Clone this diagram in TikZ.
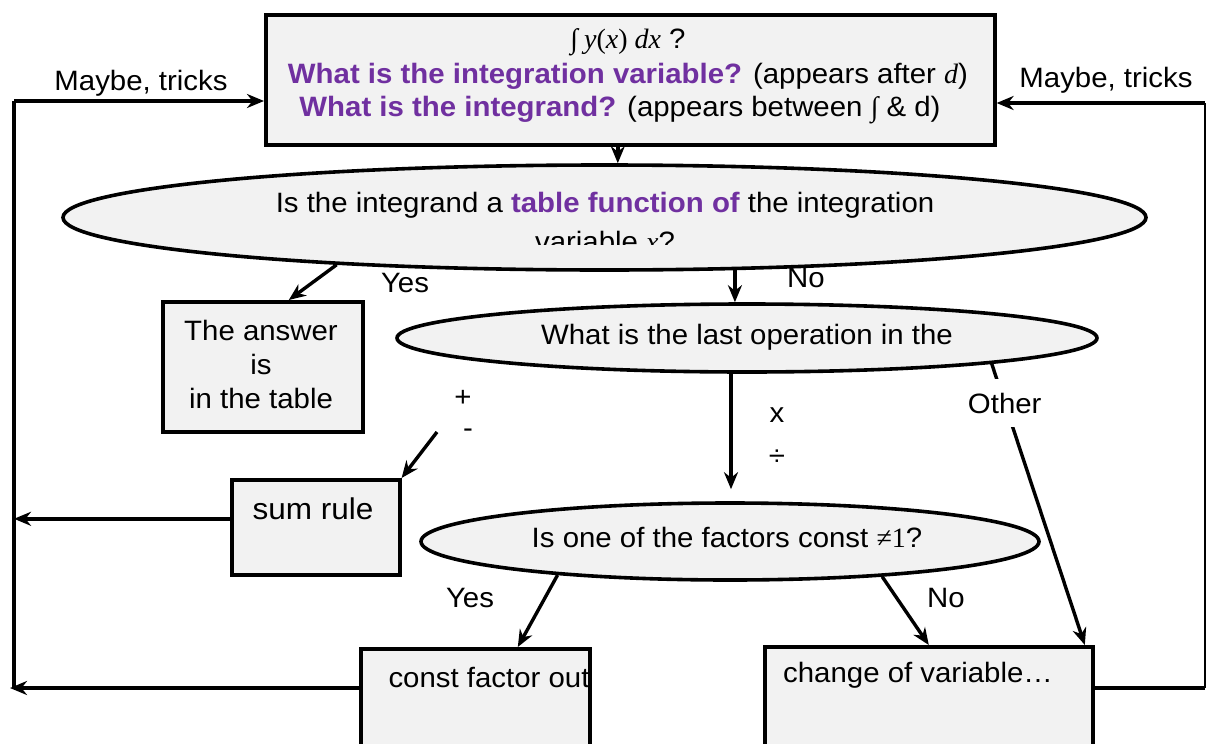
\documentclass[tikz,border=0pt]{standalone}
\usepackage{fontspec}
\setmainfont[FakeStretch=1.05]{Liberation Sans}
\newfontfamily\serf{Liberation Serif}
\usetikzlibrary{arrows.meta,shapes.geometric,calc}
\definecolor{purp}{HTML}{7030A0}
\definecolor{boxfill}{HTML}{F2F2F2}
\begin{document}
\begin{tikzpicture}[x=1pt,y=-1pt,
  every node/.style={font=\fontsize{28}{34}\selectfont, inner sep=0pt},
  box/.style={draw, line width=3.6pt, fill=boxfill, anchor=north west},
  ell/.style={draw, ellipse, line width=3.6pt, fill=boxfill, inner sep=0pt},
  arr/.style={line width=3.4pt, -{Stealth[length=17pt,width=14pt]}},
  link/.style={line width=3.4pt},
  thinlink/.style={line width=1.3pt}
]
\useasboundingbox (0,0) rectangle (1207,744);
\clip (0,0) rectangle (1207,744);

% top box
\node[box, minimum width=729, minimum height=130] (top) at (264,13) {};
\node (t1) at (628,42) {{\serf ∫\hspace{6pt}\itshape y\upshape(\itshape x\upshape) \itshape dx} ?};
\node (t2) at (628,76) {{\color{purp}\bfseries What is the integration variable?} (appears after {\serf\itshape d})};
\node (t3) at (620,110) {{\color{purp}\bfseries What is the integrand?} (appears between {\serf ∫} \& d)};

% ellipse 1
\node[ell, minimum width=1083, minimum height=105] (e1) at (604.5,217.5) {};
\node (e1t) at (605,205) {Is the integrand a {\color{purp}\bfseries table function of} the integration};
\begin{scope}
\clip (0,0) rectangle (1207,244);
\node (e1u) at (605,241) {variable {\serf\itshape x}?};
\end{scope}

% answer box
\node[box, minimum width=200, minimum height=130] (ans) at (161,300) {};
\node[align=center, font=\fontsize{28}{34}\selectfont] (anst) at (261,364) {The answer\\is\\in the table};

% ellipse 2
\node[ell, minimum width=700, minimum height=68] (e2) at (747,338) {};
\node (e2t) at (747,337) {What is the last operation in the};

% sum box
\node[box, minimum width=168, minimum height=95] (sum) at (230,478) {};
\node[font=\fontsize{30}{34}\selectfont] (sumt) at (313,509) {sum rule};

% ellipse 3
\node[ell, minimum width=618, minimum height=77] (e3) at (730,541.5) {};
\node (e3t) at (727,537) {Is one of the factors const {\serf ≠1}?};

% bottom boxes
\node[box, minimum width=229, minimum height=140] (cf) at (359,647) {};
\node (cft) at (489,677) {const factor out};
\node[box, minimum width=328, minimum height=140] (cv) at (763,645) {};
\node (cvt) at (918,675) {change of variable\ldots};

% left loop
\coordinate (L1) at (14,101);
\coordinate (L2) at (14,689);
\draw[link] (L2) -- (L1);
\draw[arr] (L1) -- (L1 -| top.west);
\node (ml) at (141,83) {Maybe, tricks};
\draw[arr] ([yshift=8.5pt]sum.west) -- ([yshift=8.5pt]sum.west -| L1);
\draw[arr] ($(cf.north west)+(0,41)$) -- ($(cf.north west)+(0,41)-(349,0)$);

% right loop
\coordinate (R1) at (1205,688);
\coordinate (R2) at (1205,103);
\draw[link] ($(cv.north east)+(0,43)$) -- (R1);
\draw[thinlink] (R1) -- (R2);
\draw[arr] (R2) -- (R2 -| top.east);
\node (mr) at (1106,80) {Maybe, tricks};

% flow arrows
\draw[arr] ([xshift=-12.5pt]top.south) -- ([xshift=-12.5pt]top.south |- e1.north);
\draw[arr] (e1.190) -- ([xshift=26pt]ans.north);
\node (y1) at (405,283) {Yes};
\draw[arr] (e1.338) -- (e1.338 |- e2.north);
\node (n1) at (806,278) {No};

\coordinate (pm) at (437,432);
\draw[arr] (pm) -- (sum.north east);
\node (plus) at (463,398) {+};
\node (minus) at (468,433) {-};

\draw[arr, shorten >=12pt] ([xshift=-16pt]e2.south) -- ([xshift=-16pt]e2.south |- e3.north);
\node (times) at (777,415) {x};
\node (div) at (777,458) {÷};

\draw[arr] (e2.354.5) -- node[pos=0.14, fill=white, inner xsep=3pt, inner ysep=14pt] (oth) {Other} ([xshift=156pt]cv.north);

\draw[arr] (e3.191) -- ([xshift=42.5pt]cf.north);
\node (y2) at (470,598) {Yes};
\draw[arr] (e3.347.5) -- (cv.north);
\node (n2) at (946,598) {No};
\end{tikzpicture}
\end{document}
